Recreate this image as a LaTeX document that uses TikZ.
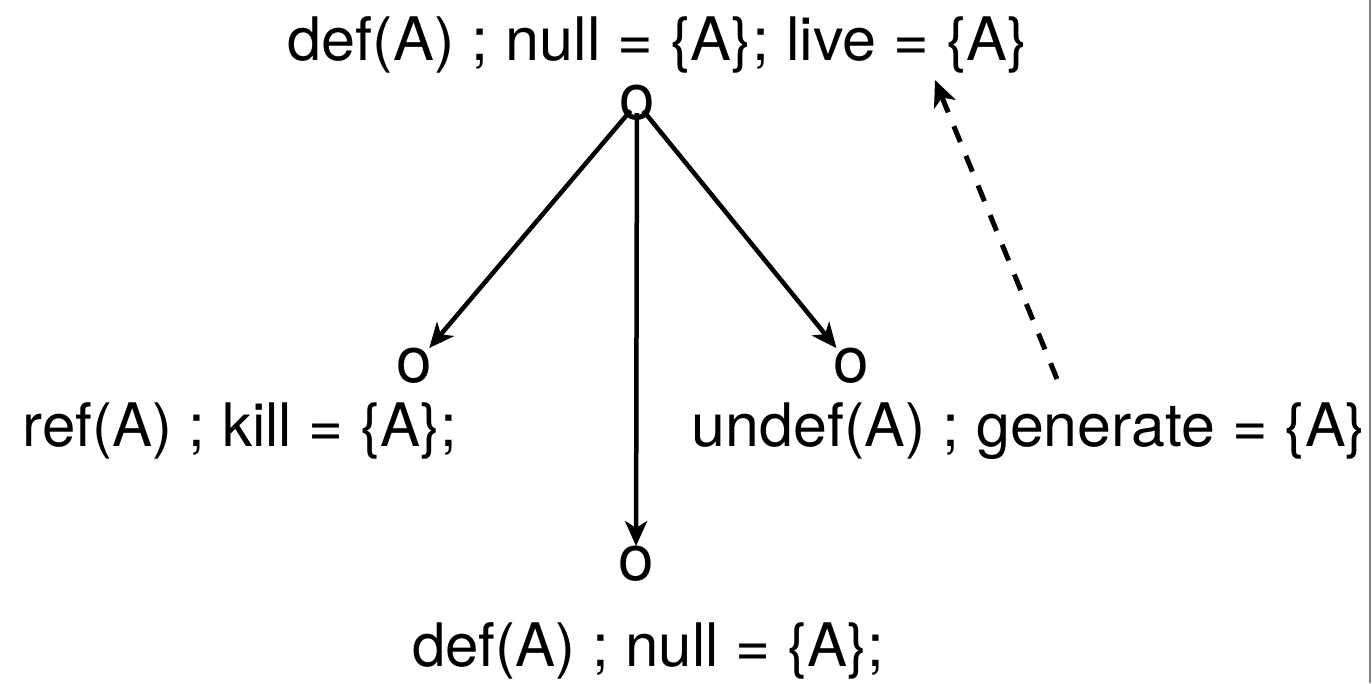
\documentclass[tikz,border=0pt]{standalone}
\usepackage{fontspec}
\setmainfont{TeX Gyre Heros}
\usetikzlibrary{arrows.meta}
\tikzset{
  lbl/.style={anchor=base, inner sep=0pt, font=\fontsize{60}{72}\selectfont},
  vtx/.style={inner sep=0pt, font=\fontsize{64}{72}\selectfont},
  edge/.style={line width=4.5pt, -{Stealth[length=25pt,width=22pt,inset=7pt]}},
  dedge/.style={line width=5pt, dash pattern=on 17pt off 15pt, -{Stealth[length=26pt,width=23pt,inset=7pt]}},
}
\begin{document}
\begin{tikzpicture}[x=1pt,y=-1pt]
\useasboundingbox (0,0) rectangle (1372,683);
\draw[gray, line width=1.5pt] (1370,0) -- (1370,683);
% labels
\node[lbl, xscale=1.02, transform shape] (ttop) at (658,60) {def(A) ; null = \{A\}; live = \{A\}};
\node[lbl] (tleft) at (240,446) {ref(A) ; kill = \{A\};};
\node[lbl, xscale=1.015, transform shape] (tright) at (1029,446) {undef(A) ; generate = \{A\}};
\node[lbl] (tbot) at (648,666) {def(A) ; null = \{A\};};
% vertices
\node[vtx] (top) at (637,103) {o};
\node[vtx] (left) at (414,366) {o};
\node[vtx] (right) at (851,366) {o};
\node[vtx] (bot) at (636,564) {o};
% edges
\draw[edge, shorten <=10pt] (top.center) -- (left);
\draw[edge, shorten <=10pt] (top.center) -- (bot);
\draw[edge, shorten <=10pt] (top.center) -- (right);
\coordinate (dstart) at (1057,379);
\coordinate (dend) at (935,80);
\draw[dedge] (dstart) -- (dend);
\end{tikzpicture}
\end{document}
